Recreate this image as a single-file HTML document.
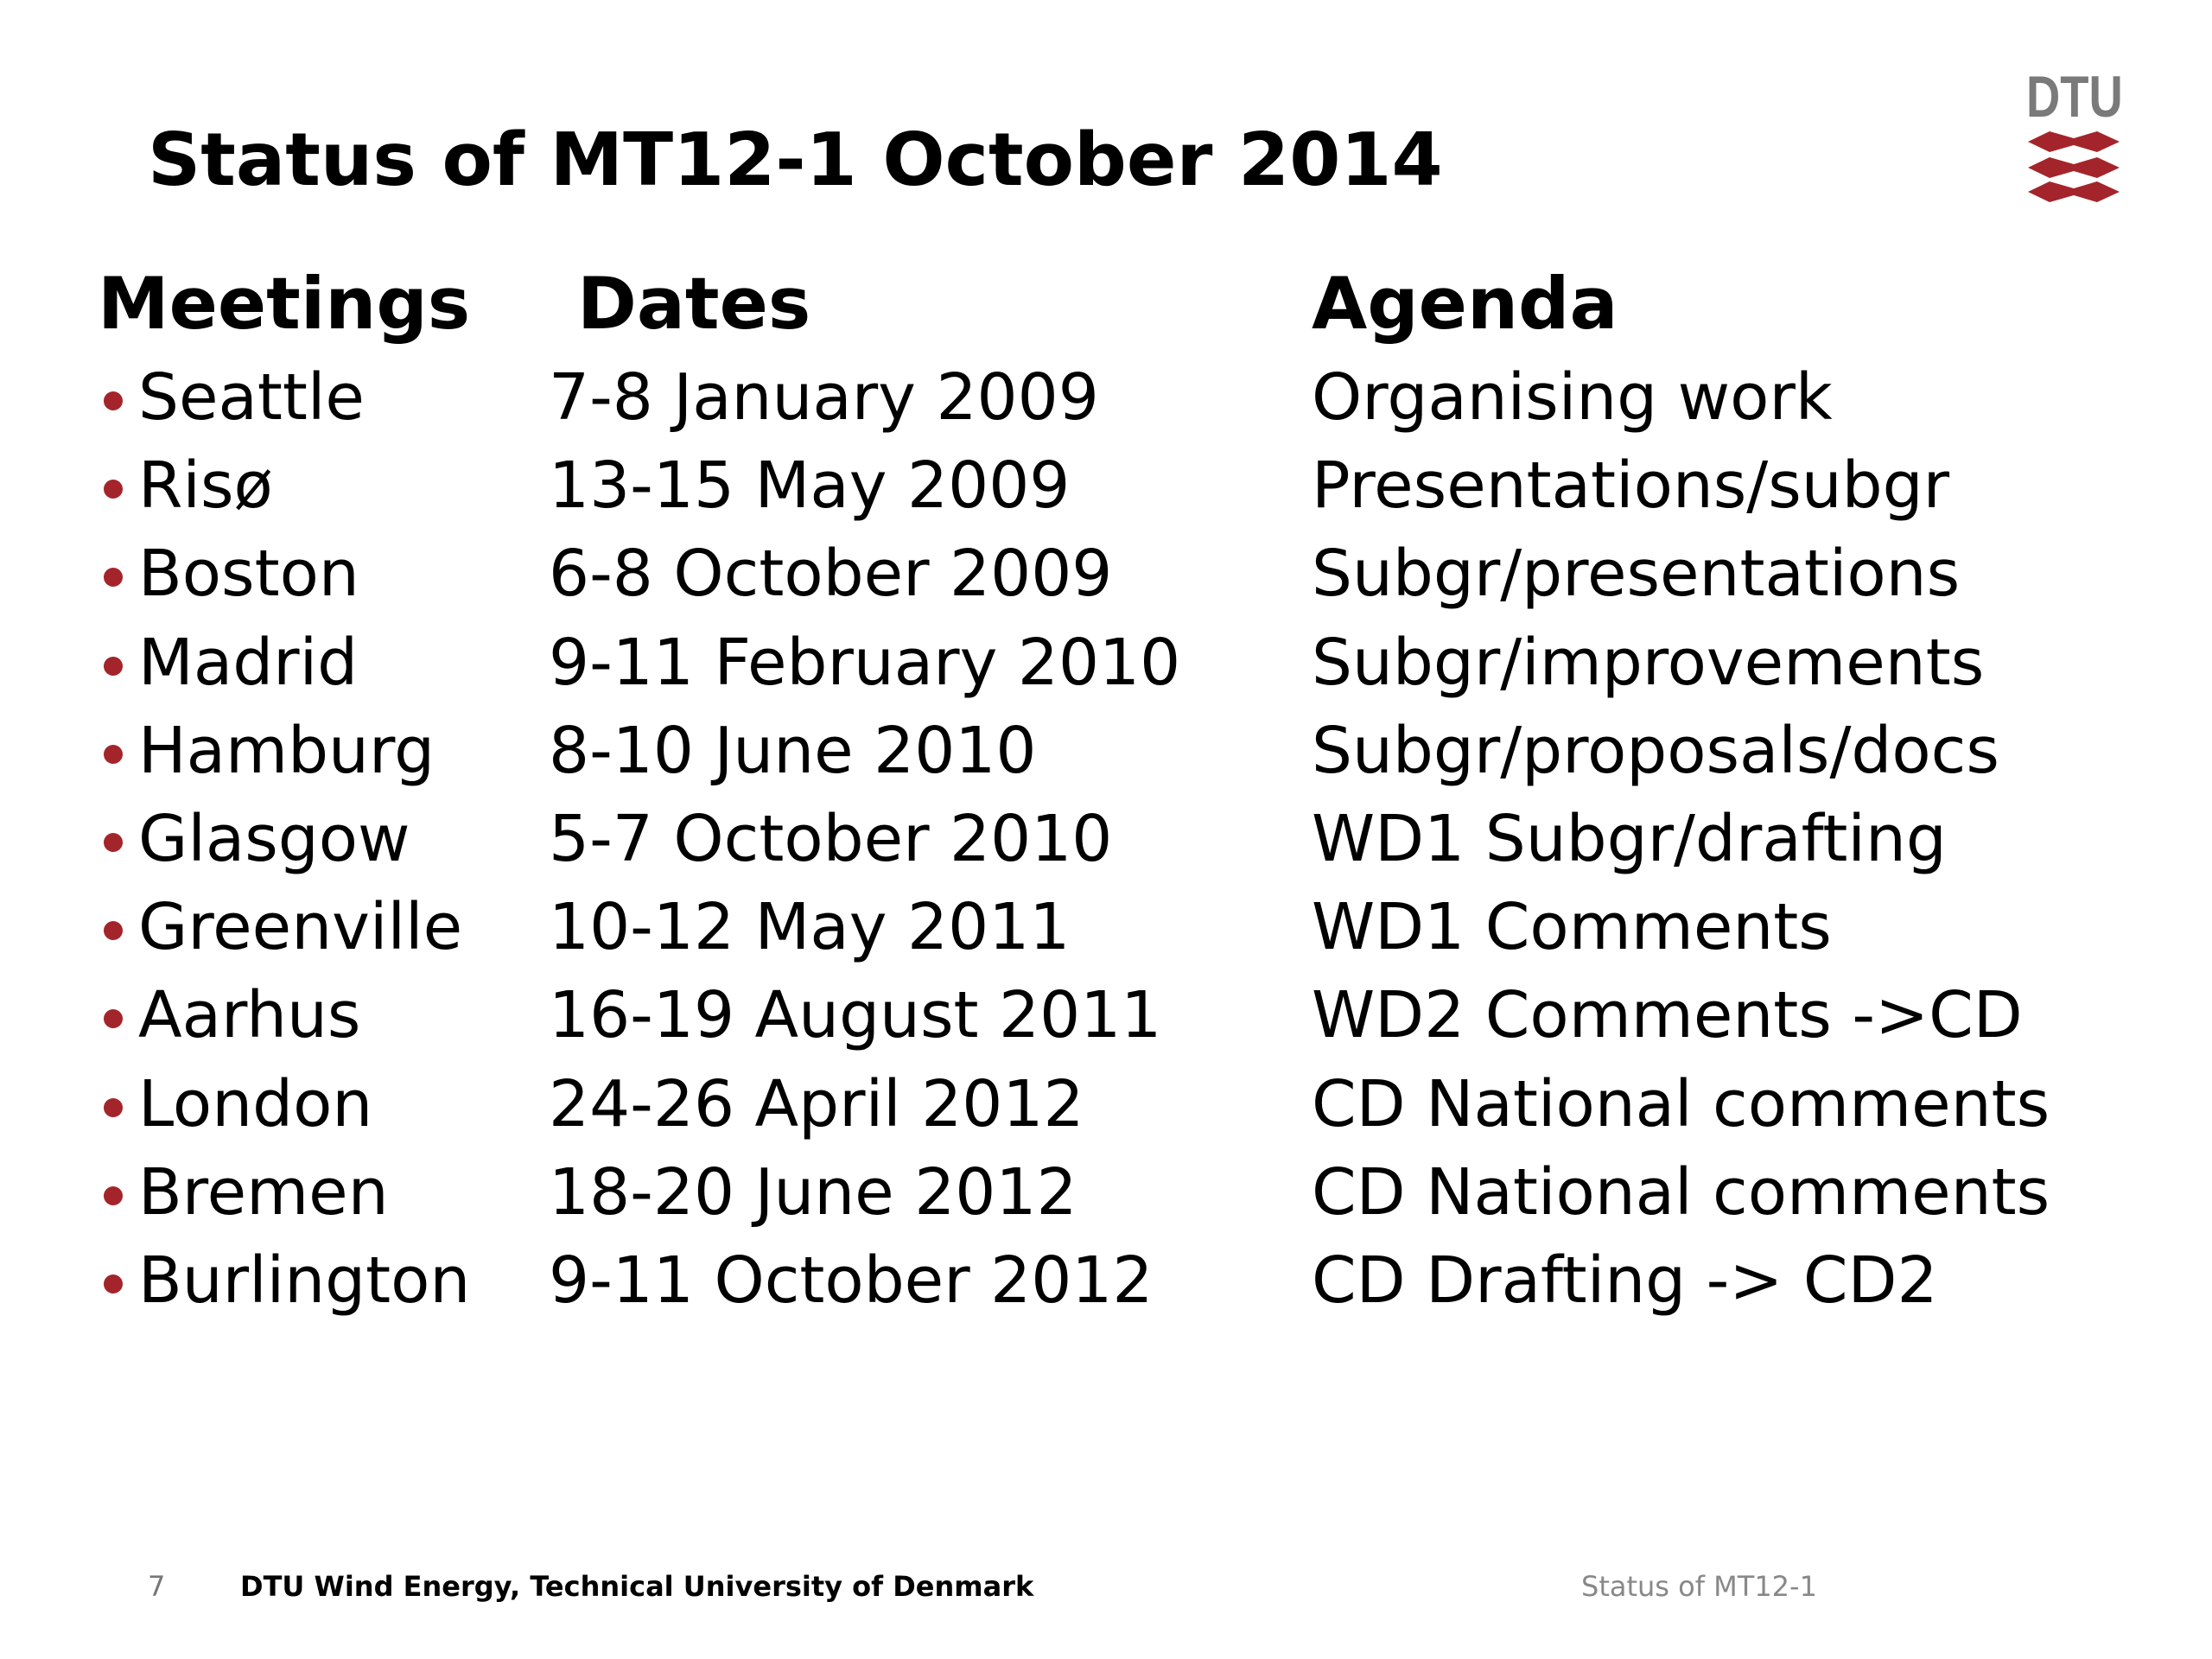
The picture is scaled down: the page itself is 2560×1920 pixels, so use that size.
<!DOCTYPE html>
<html><head><meta charset="utf-8"><style>
body{margin:0;width:2560px;height:1920px;background:#fff;position:relative;overflow:hidden;font-family:"DejaVu Sans","Liberation Sans",sans-serif;color:#000}
.t{position:absolute;white-space:nowrap;line-height:1}
.row{font-size:74px}
.b{position:absolute;width:22px;height:22px;border-radius:50%;background:#a3252b}
</style></head><body>
<div class="t" style="left:171px;top:143px;font-size:85px;font-weight:bold">Status of MT12-1 October 2014</div>
<div style="position:absolute;left:2345px;top:78px;width:110px;height:165px">
<div class="t" style="left:0;top:0;font-size:68px;font-weight:bold;color:#7a7a7a;transform:scaleX(0.8);transform-origin:left top;font-family:'Liberation Sans',sans-serif">DTU</div>
<svg width="110" height="165" style="position:absolute;left:0;top:4px">
<g fill="#a3252b">
<path d="M2 82 L27 70 L55 78 L82 70 L108 82 L82 94 L55 86 L27 94Z"/>
<path d="M2 112 L27 100 L55 108 L82 100 L108 112 L82 124 L55 116 L27 124Z"/>
<path d="M2 140 L27 128 L55 136 L82 128 L108 140 L82 152 L55 144 L27 152Z"/>
</g></svg></div>
<div class="t" style="left:113px;top:310px;font-size:83px;font-weight:bold">Meetings</div>
<div class="t" style="left:668px;top:310px;font-size:83px;font-weight:bold">Dates</div>
<div class="t" style="left:1518px;top:310px;font-size:83px;font-weight:bold">Agenda</div>
<div id="rows"></div>
<div class="t" style="left:171px;top:1820px;font-size:32px;color:#777">7</div>
<div class="t" style="left:278px;top:1820px;font-size:32px;font-weight:bold">DTU Wind Energy, Technical University of Denmark</div>
<div class="t" style="left:1830px;top:1820px;font-size:32px;color:#888">Status of MT12-1</div>
<script>
const cities=["Seattle","Risø","Boston","Madrid","Hamburg","Glasgow","Greenville","Aarhus","London","Bremen","Burlington"];
const dates=["7-8 January 2009","13-15 May 2009","6-8 October 2009","9-11 February 2010","8-10 June 2010","5-7 October 2010","10-12 May 2011","16-19 August 2011","24-26 April 2012","18-20 June 2012","9-11 October 2012"];
const agendas=["Organising work","Presentations/subgr","Subgr/presentations","Subgr/improvements","Subgr/proposals/docs","WD1 Subgr/drafting","WD1 Comments","WD2 Comments ->CD","CD National comments","CD National comments","CD Drafting -> CD2"];
const c=document.body;
cities.forEach((city,i)=>{
const top=423+i*102.2;
const b=document.createElement('div');b.className='b';b.style.left='120px';b.style.top=(top+30)+'px';


c.appendChild(b);
[[city,160,'meeting-city'],[dates[i],635,'meeting-date'],[agendas[i],1518,'meeting-agenda']].forEach(([txt,x,n])=>{
const d=document.createElement('div');d.className='t row';d.textContent=txt;d.style.left=x+'px';d.style.top=top+'px';


c.appendChild(d);});
});
</script>
</body></html>
